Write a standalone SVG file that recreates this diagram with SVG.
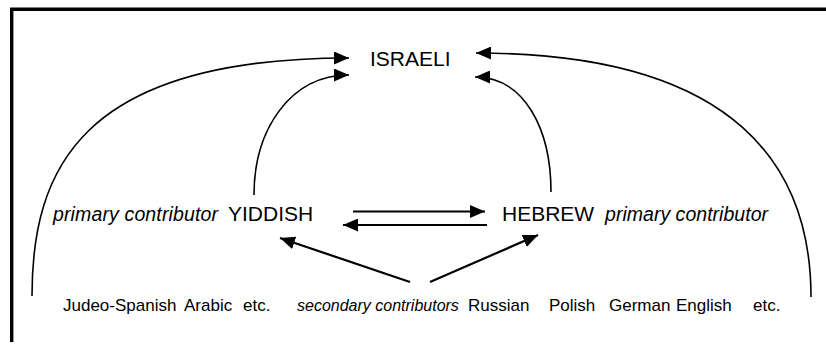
<svg xmlns="http://www.w3.org/2000/svg" width="826" height="344" viewBox="0 0 826 344">
  <style>
    text { font-family: "Liberation Sans", Arial, sans-serif; fill: #000; }
    .lang { font-size: 21px; }
    .note { font-size: 19.5px; font-style: italic; }
    .minor { font-size: 17px; }
    .minor-i { font-size: 16px; font-style: italic; }
    .curve { fill: none; stroke: #000; stroke-width: 1.6; }
    .straight { fill: none; stroke: #000; stroke-width: 2.2; }
    .frame { fill: none; stroke: #000; stroke-width: 3.4; }
  </style>
  <defs>
    <marker id="head" markerUnits="userSpaceOnUse" markerWidth="15" markerHeight="13" refX="15" refY="6.5" orient="auto">
      <path d="M0,0 L15,6.5 L0,13 Z" fill="#000"/>
    </marker>
  </defs>
  <rect width="826" height="344" fill="#fff"/>

  <!-- open frame: top and left edges -->
  <path class="frame" d="M11.7,342 L11.7,9.2 L826,9.2"/>

  <g id="israeli"><text class="lang" x="370" y="66">ISRAELI</text></g>

  <g id="yiddish">
    <text class="note" x="53" y="221" textLength="165" lengthAdjust="spacing">primary contributor</text>
    <text class="lang" x="228" y="221">YIDDISH</text>
  </g>

  <g id="hebrew">
    <text class="lang" x="502" y="221">HEBREW</text>
    <text class="note" x="605" y="221" textLength="163" lengthAdjust="spacing">primary contributor</text>
  </g>

  <g id="secondary">
    <text class="minor" x="63" y="311">Judeo-Spanish</text>
    <text class="minor" x="184" y="311">Arabic</text>
    <text class="minor" x="243" y="311">etc.</text>
    <text class="minor-i" x="297" y="311">secondary contributors</text>
    <text class="minor" x="468" y="311">Russian</text>
    <text class="minor" x="549" y="311">Polish</text>
    <text class="minor" x="609" y="311">German</text>
    <text class="minor" x="676" y="311">English</text>
    <text class="minor" x="753" y="311">etc.</text>
  </g>

  <g id="connectors">
    <path class="curve" d="M32,296 C32,170 80,58 349,58" marker-end="url(#head)"/>
    <path class="curve" d="M254,195 C254,130 290,75 349,75" marker-end="url(#head)"/>
    <path class="curve" d="M551,192 C551,130 525,77 475,77" marker-end="url(#head)"/>
    <path class="curve" d="M811,297 C811,170 740,53 476,53" marker-end="url(#head)"/>
    <path class="straight" d="M353,211.5 L485,211.5" marker-end="url(#head)"/>
    <path class="straight" d="M487,225 L343,225" marker-end="url(#head)"/>
    <path class="straight" d="M410,282 L280,238" marker-end="url(#head)"/>
    <path class="straight" d="M430,282 L538,235" marker-end="url(#head)"/>
  </g>
</svg>
